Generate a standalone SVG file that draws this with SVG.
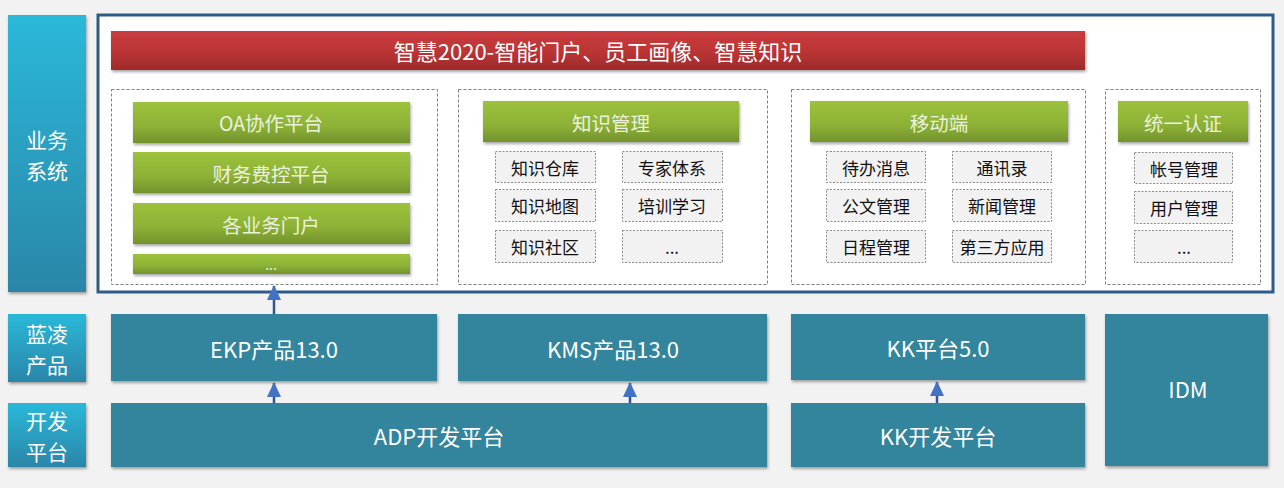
<svg xmlns="http://www.w3.org/2000/svg" width="1284" height="488" viewBox="0 0 1284 488">
<defs>
<linearGradient id="gSide" x1="0" y1="0" x2="0" y2="1"><stop offset="0" stop-color="#2bb8d9"/><stop offset="1" stop-color="#2a86a8"/></linearGradient>
<linearGradient id="gRed" x1="0" y1="0" x2="0" y2="1"><stop offset="0" stop-color="#c93c3e"/><stop offset="0.5" stop-color="#bd3536"/><stop offset="1" stop-color="#9e2a2a"/></linearGradient>
<linearGradient id="gGreen" x1="0" y1="0" x2="0" y2="1"><stop offset="0" stop-color="#9cc23c"/><stop offset="0.6" stop-color="#8cb136"/><stop offset="1" stop-color="#72922c"/></linearGradient>
<filter id="sh" x="-5%" y="-10%" width="110%" height="130%"><feDropShadow dx="1" dy="2" stdDeviation="1.5" flood-color="#000" flood-opacity="0.35"/></filter>
<marker id="ah" viewBox="0 0 15 14" refX="14" refY="7" markerWidth="15" markerHeight="14" markerUnits="userSpaceOnUse" orient="auto"><path d="M0,0 L15,7 L0,14 Z" fill="#4472c4"/></marker>
<style>
.side{fill:url(#gSide);filter:url(#sh)}
.teal{fill:#31859c;filter:url(#sh)}
.green{fill:url(#gGreen);filter:url(#sh)}
.grp{fill:#fff;stroke:#7f7f7f;stroke-width:1;stroke-dasharray:3 2}
.sub{fill:#f2f2f2;stroke:#8c8c8c;stroke-width:1;stroke-dasharray:2 1.5}
text{font-family:"Microsoft YaHei","Noto Sans CJK SC","Noto Sans",sans-serif;text-anchor:middle;dominant-baseline:central}
.wt{fill:#fff;font-size:22px}
.st{fill:#fff;font-size:21px}
.gt{fill:#ebf1de;font-size:19.5px}
.bt{fill:#111;font-size:17px}
.conn line{stroke:#2f5597;stroke-width:2.5;marker-end:url(#ah)}
</style>
</defs>
<rect width="1284" height="488" fill="#f2f2f2"/>
<g id="side-biz"><rect class="side" x="8" y="15" width="78" height="277"/><text class="st" x="47" y="138.5">业务</text><text class="st" x="47" y="169.5">系统</text></g>
<g id="side-prod"><rect class="side" x="8" y="314" width="78" height="68"/><text class="st" x="47" y="332.5">蓝凌</text><text class="st" x="47" y="363.5">产品</text></g>
<g id="side-dev"><rect class="side" x="8" y="403" width="78" height="64"/><text class="st" x="47" y="419.5">开发</text><text class="st" x="47" y="450.5">平台</text></g>
<g id="frame"><rect x="98" y="15" width="1175" height="277" fill="#fff" stroke="#2f5b8a" stroke-width="3"/></g>
<g id="banner"><rect x="111" y="31" width="974" height="39" fill="url(#gRed)" filter="url(#sh)"/><text class="wt" x="598" y="50">智慧2020-智能门户、员工画像、智慧知识</text></g>
<g id="grp-oa">
<rect class="grp" x="111.5" y="89.5" width="326" height="195"/>
<rect class="green" x="133" y="102" width="277" height="41"/><text class="gt" x="271" y="122">OA协作平台</text>
<rect class="green" x="133" y="152" width="277" height="41"/><text class="gt" x="271" y="173">财务费控平台</text>
<rect class="green" x="133" y="203" width="277" height="41"/><text class="gt" x="271" y="224">各业务门户</text>
<rect class="green" x="133" y="254" width="277" height="20"/><text class="gt" x="271" y="264" style="font-size:14px">...</text>
</g>
<g id="grp-km">
<rect class="grp" x="458.5" y="89.5" width="309" height="195"/>
<rect class="green" x="483" y="101" width="256" height="41"/><text class="gt" x="611" y="122">知识管理</text>
<rect class="sub" x="495.5" y="151.5" width="100" height="31"/><text class="bt" x="545" y="167">知识仓库</text>
<rect class="sub" x="622.5" y="151.5" width="100" height="31"/><text class="bt" x="672" y="167">专家体系</text>
<rect class="sub" x="495.5" y="189.5" width="100" height="32"/><text class="bt" x="545" y="205">知识地图</text>
<rect class="sub" x="622.5" y="189.5" width="100" height="32"/><text class="bt" x="672" y="205">培训学习</text>
<rect class="sub" x="495.5" y="230.5" width="100" height="32"/><text class="bt" x="545" y="246">知识社区</text>
<rect class="sub" x="622.5" y="230.5" width="100" height="32"/><text class="bt" x="672" y="246">...</text>
</g>
<g id="grp-mobile">
<rect class="grp" x="791.5" y="89.5" width="294" height="195"/>
<rect class="green" x="810" y="101" width="258" height="41"/><text class="gt" x="939" y="122">移动端</text>
<rect class="sub" x="826.5" y="151.5" width="99" height="31"/><text class="bt" x="876" y="167">待办消息</text>
<rect class="sub" x="952.5" y="151.5" width="99" height="31"/><text class="bt" x="1002" y="167">通讯录</text>
<rect class="sub" x="826.5" y="189.5" width="99" height="32"/><text class="bt" x="876" y="205">公文管理</text>
<rect class="sub" x="952.5" y="189.5" width="99" height="32"/><text class="bt" x="1002" y="205">新闻管理</text>
<rect class="sub" x="826.5" y="230.5" width="99" height="32"/><text class="bt" x="876" y="246">日程管理</text>
<rect class="sub" x="952.5" y="230.5" width="99" height="32"/><text class="bt" x="1002" y="246">第三方应用</text>
</g>
<g id="grp-auth">
<rect class="grp" x="1105.5" y="89.5" width="155" height="195"/>
<rect class="green" x="1118" y="101" width="130" height="41"/><text class="gt" x="1183" y="122">统一认证</text>
<rect class="sub" x="1134.5" y="152.5" width="98" height="31"/><text class="bt" x="1184" y="168">帐号管理</text>
<rect class="sub" x="1134.5" y="191.5" width="98" height="32"/><text class="bt" x="1184" y="207">用户管理</text>
<rect class="sub" x="1134.5" y="230.5" width="98" height="32"/><text class="bt" x="1184" y="246">...</text>
</g>
<g id="ekp"><rect class="teal" x="111" y="314" width="326" height="67"/><text class="wt" x="274" y="348">EKP产品13.0</text></g>
<g id="kms"><rect class="teal" x="458" y="314" width="309" height="67"/><text class="wt" x="613" y="348">KMS产品13.0</text></g>
<g id="kk"><rect class="teal" x="791" y="314" width="294" height="66"/><text class="wt" x="938" y="347">KK平台5.0</text></g>
<g id="idm"><rect class="teal" x="1105" y="314" width="163" height="152"/><text class="wt" x="1188" y="388">IDM</text></g>
<g id="adp"><rect class="teal" x="111" y="403" width="656" height="64"/><text class="wt" x="439" y="435">ADP开发平台</text></g>
<g id="kkdev"><rect class="teal" x="791" y="403" width="294" height="64"/><text class="wt" x="938" y="435">KK开发平台</text></g>
<g id="connectors" class="conn">
<line x1="274" y1="314" x2="274" y2="286"/>
<line x1="274" y1="403" x2="274" y2="383"/>
<line x1="630" y1="403" x2="630" y2="383"/>
<line x1="937" y1="403" x2="937" y2="382"/>
</g>
</svg>
